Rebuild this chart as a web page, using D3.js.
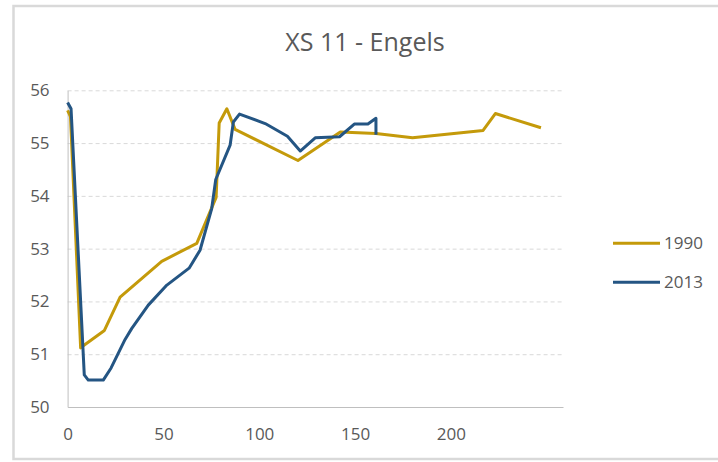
<!DOCTYPE html>
<html>
<head>
<meta charset="utf-8">
<script src="https://cdn.jsdelivr.net/npm/d3@7"></script>
<style>
  html, body { margin: 0; padding: 0; background: #fff; }
  svg { display: block; font-family: "Open Sans", "Liberation Sans", sans-serif; }
</style>
</head>
<body>
<svg id="chart" width="718" height="462"></svg>
<script>
// Cross-section XS 11: bed level (m) against distance (m), surveys of 1990 and 2013
const dist1990 = [0, 1.5, 6.8, 8.2, 19.2, 27.4, 49.1, 67.4, 77.5, 79.1, 83.1, 87.4, 120.2, 142.3, 160.9, 180.0, 216.8, 223.2, 247.0];
const level1990 = [55.62, 55.5, 51.12, 51.16, 51.45, 52.08, 52.76, 53.10, 53.97, 55.38, 55.65, 55.26, 54.67, 55.21, 55.18, 55.10, 55.24, 55.56, 55.29];

const dist2013 = [0, 1.8, 8.7, 10.8, 18.6, 22.7, 30.0, 33.5, 42.1, 51.8, 63.4, 69.1, 75.2, 77.3, 84.8, 86.5, 89.7, 103.1, 114.7, 121.4, 129.2, 141.9, 149.6, 156.7, 160.9, 160.9];
const level2013 = [55.77, 55.65, 50.61, 50.51, 50.51, 50.74, 51.28, 51.49, 51.93, 52.31, 52.63, 52.97, 53.76, 54.31, 54.96, 55.40, 55.55, 55.37, 55.13, 54.85, 55.10, 55.12, 55.36, 55.36, 55.47, 55.16];

const seriesNames = ["1990", "2013"];
const seriesColors = ["#C49A0A", "#245583"];
const xTicks = [0, 50, 100, 150, 200];
const yTicks = [50, 51, 52, 53, 54, 55, 56];
const chartTitle = "XS 11 - Engels";

const series = [
  { name: seriesNames[0], color: seriesColors[0], pts: dist1990.map((d, i) => [d, level1990[i]]) },
  { name: seriesNames[1], color: seriesColors[1], pts: dist2013.map((d, i) => [d, level2013[i]]) }
];

const svg = d3.select("#chart");
const margin = { left: 67.6, right: 563, top: 90.3, bottom: 407 };
const textColor = "#595959";

// outer chart frame
svg.append("rect")
  .attr("x", 13.5).attr("y", 6).attr("width", 720).attr("height", 453)
  .attr("fill", "#fff").attr("stroke", "#d9d9d9").attr("stroke-width", 2.5);

const x = d3.scaleLinear().domain([0, 258.5]).range([margin.left, margin.right]);
const y = d3.scaleLinear().domain([50, 56]).range([margin.bottom, margin.top]);

// horizontal dashed gridlines
const grid = svg.append("g")
  .attr("transform", `translate(${margin.left},0)`)
  .call(d3.axisLeft(y).tickValues(yTicks.filter(v => v > 50)).tickSize(-(margin.right - margin.left)).tickFormat(""));
grid.select(".domain").remove();
grid.selectAll("line")
  .attr("stroke", "#d9d9d9").attr("stroke-width", 1).attr("stroke-dasharray", "4,3");

// y axis
const yAxis = svg.append("g")
  .attr("transform", `translate(${margin.left},0)`)
  .call(d3.axisLeft(y).tickValues(yTicks).tickSize(0).tickPadding(18).tickFormat(d3.format("d")));
yAxis.select(".domain").attr("stroke", "#bfbfbf").attr("stroke-width", 1);
yAxis.selectAll("text").attr("fill", textColor).style("font-size", "17px")
  .style("font-family", "'Open Sans', sans-serif");

// x axis
const xAxis = svg.append("g")
  .attr("transform", `translate(0,${margin.bottom})`)
  .call(d3.axisBottom(x).tickValues(xTicks).tickSize(0).tickPadding(21).tickFormat(d3.format("d")));
xAxis.select(".domain").attr("stroke", "#bfbfbf").attr("stroke-width", 1);
xAxis.selectAll("text").attr("fill", textColor).style("font-size", "17px")
  .style("font-family", "'Open Sans', sans-serif");

// profile lines
const line = d3.line().x(d => x(d[0])).y(d => y(d[1]));
svg.append("g").selectAll("path")
  .data(series)
  .join("path")
  .attr("d", d => line(d.pts))
  .attr("fill", "none")
  .attr("stroke", d => d.color)
  .attr("stroke-width", 3)
  .attr("stroke-linejoin", "round")
  .attr("stroke-linecap", "butt");

// title
svg.append("text")
  .attr("x", 365).attr("y", 51)
  .attr("text-anchor", "middle")
  .attr("fill", textColor)
  .style("font-size", "25px")
  .text(chartTitle);

// legend
const legend = svg.append("g").selectAll("g")
  .data(series)
  .join("g")
  .attr("transform", (d, i) => `translate(613,${243.3 + i * 39})`);
legend.append("line")
  .attr("x1", 0).attr("x2", 47).attr("y1", 0).attr("y2", 0)
  .attr("stroke", d => d.color).attr("stroke-width", 3);
legend.append("text")
  .attr("x", 51).attr("y", 0).attr("dy", "0.36em")
  .attr("fill", textColor)
  .style("font-size", "17px")
  .text(d => d.name);
</script>
</body>
</html>
